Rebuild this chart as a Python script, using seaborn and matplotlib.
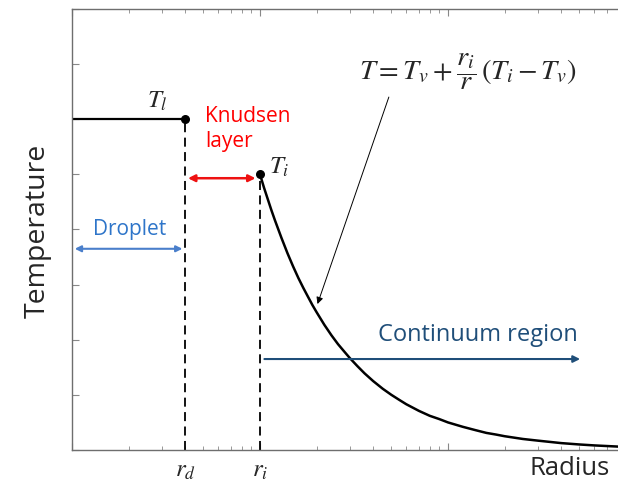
#!/usr/bin/env python3
import matplotlib
matplotlib.use("Agg")
import matplotlib.pyplot as plt
import matplotlib.transforms as mtransforms
from matplotlib.ticker import LogLocator, NullFormatter, MultipleLocator
import seaborn as sns

# droplet plateau (r <= r_d) and interface
r_d, r_i = 4, 10
T_l, T_i = 6.0, 5.0
plateau_r = [1, r_d]
plateau_T = [T_l, T_l]

# continuum profile
curve_r = [10, 10.5, 11, 11.5, 12, 13, 14, 15, 16, 17, 18, 19, 20, 22, 24, 26, 28, 30,
           33, 36, 40, 45, 50, 55, 60, 70, 80, 90, 100, 120, 140, 160, 180, 200,
           250, 300, 400, 500, 600, 800, 1000]
curve_T = [5.0, 4.76, 4.55, 4.35, 4.17, 3.85, 3.57, 3.33, 3.12, 2.94, 2.78, 2.63, 2.5,
           2.27, 2.08, 1.92, 1.79, 1.67, 1.52, 1.39, 1.25, 1.11, 1.0, 0.91, 0.83, 0.71,
           0.62, 0.56, 0.5, 0.42, 0.36, 0.31, 0.28, 0.25, 0.2, 0.17, 0.125, 0.1, 0.083,
           0.062, 0.05]

sns.set_theme(style="white")
plt.rcParams["font.family"] = ["Open Sans", "DejaVu Sans"]
plt.rcParams["mathtext.fontset"] = "stix"

fig = plt.figure(figsize=(6.18, 4.86), dpi=100)
ax = fig.add_axes([0.1165, 0.0741, 0.9126, 0.9074])

sns.lineplot(x=plateau_r, y=plateau_T, color="black", linewidth=1.6, ax=ax)
sns.lineplot(x=curve_r, y=curve_T, color="black", linewidth=1.8, ax=ax)
ax.plot([r_d, r_d], [0, T_l], color="black", linestyle=(0, (5, 3)), linewidth=1.3)
ax.plot([r_i, r_i], [0, T_i], color="black", linestyle=(0, (5, 3)), linewidth=1.3)
ax.scatter([r_d, r_i], [T_l, T_i], color="black", s=30, zorder=5)

ax.set_xscale("log")
ax.set_xlim(1, 1000)
ax.set_ylim(0, 8)
ax.yaxis.set_major_locator(MultipleLocator(1))
ax.xaxis.set_major_locator(LogLocator(base=10))
ax.xaxis.set_minor_locator(LogLocator(base=10, subs=range(2, 10)))
ax.xaxis.set_major_formatter(NullFormatter())
ax.xaxis.set_minor_formatter(NullFormatter())
ax.yaxis.set_major_formatter(NullFormatter())
ax.tick_params(axis="both", which="both", direction="in", color="#888888",
               top=True, bottom=True, left=True, right=False)
ax.tick_params(which="major", length=5, width=0.8)
ax.tick_params(which="minor", length=3, width=0.6)
ax.set_xlabel("")
ax.set_ylabel("")
for s in ax.spines.values():
    s.set_color("#6e6e6e")
    s.set_linewidth(1.0)

# arrows
ax.annotate("", xy=(1.0, 3.65), xytext=(r_d, 3.65),
            arrowprops=dict(arrowstyle="<|-|>", color="#4a7fcb", lw=1.5, mutation_scale=9))
ax.annotate("", xy=(r_d, 4.93), xytext=(r_i * 0.98, 4.93),
            arrowprops=dict(arrowstyle="<|-|>", color="#ee1111", lw=1.8, mutation_scale=10))
ax.annotate("", xy=(522, 1.65), xytext=(10.2, 1.65),
            arrowprops=dict(arrowstyle="-|>", color="#1f4e79", lw=1.5, mutation_scale=10))
ax.annotate("", xy=(20, 2.6), xytext=(49, 6.45),
            arrowprops=dict(arrowstyle="-|>", color="black", lw=0.7, mutation_scale=10))

# labels
ax.text(1.29, 4.0, "Droplet", color="#2e75c9", fontsize=15, ha="left", va="center")
ax.text(5.1, 5.82, "Knudsen\nlayer", color="#ff0000", fontsize=15, ha="left", va="center",
        linespacing=1.25)
ax.text(42.5, 2.09, "Continuum region", color="#1f4e79", fontsize=17, ha="left", va="center")
ax.text(2.85, 6.33, r"$T_l$", fontsize=18, ha="center", va="center")
ax.text(12.6, 5.13, r"$T_i$", fontsize=18, ha="center", va="center")
ax.text(128, 6.87, r"$T = T_v + \dfrac{r_i}{r}\,(T_i - T_v)$", fontsize=20.5,
        ha="center", va="center")

trans = mtransforms.blended_transform_factory(ax.transData, ax.transAxes)
ax.text(r_d, -0.045, r"$r_d$", fontsize=18, ha="center", va="center", transform=trans)
ax.text(r_i, -0.045, r"$r_i$", fontsize=18, ha="center", va="center", transform=trans)
ax.text(446, -0.042, "Radius", fontsize=18.5, ha="center", va="center", transform=trans)
fig.text(0.061, 0.525, "Temperature", fontsize=20.5, rotation=90, ha="center", va="center")

fig.savefig("out.png", dpi=100)
